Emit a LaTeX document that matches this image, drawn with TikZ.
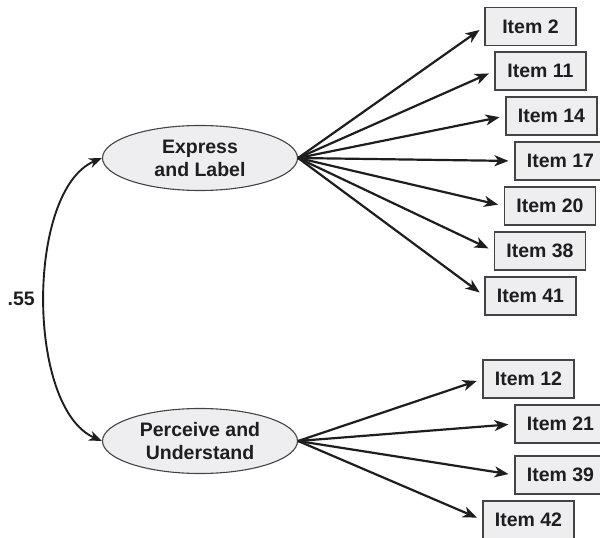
\documentclass[tikz,border=0pt]{standalone}
\usepackage{fontspec}
\setmainfont{Liberation Sans}
\usetikzlibrary{arrows.meta,shapes.geometric}

\definecolor{fillgray}{HTML}{EEEEF1}
\definecolor{edgegray}{HTML}{444444}
\definecolor{inkdark}{HTML}{1E1E1E}

\begin{document}
\begin{tikzpicture}[
  x=1pt, y=-1pt,
  font=\fontsize{19.5}{23}\selectfont\bfseries,
  text=inkdark,
  factor/.style={ellipse, draw=edgegray, line width=1.1pt, fill=fillgray,
    minimum width=195pt, minimum height=65pt, inner sep=0pt, align=center},
  item/.style={draw=edgegray, line width=1.1pt, fill=fillgray,
    minimum width=91pt, minimum height=38pt, inner sep=0pt},
  arr/.style={-{Stealth[length=14pt, width=11pt, inset=4pt]}, line width=2.2pt, draw=inkdark, shorten >=6pt},
  dbl/.style={{Stealth[length=13pt, width=10pt, inset=4pt]}-{Stealth[length=13pt, width=10pt, inset=4pt]}, line width=1.9pt, draw=inkdark}
]
\clip (0,0) rectangle (600,538);
\fill[white] (0,0) rectangle (600,538);
% factors
\node[factor] (EL) at (200,158) {Express\\and Label};
\node[factor] (PU) at (200,441) {Perceive and\\Understand};
% items for Express and Label
\node[item] (i2)  at (530.5,26.5) {Item 2};
\node[item] (i11) at (540.5,71)   {Item 11};
\node[item] (i14) at (551.5,116)  {Item 14};
\node[item] (i17) at (560.5,161)  {Item 17};
\node[item] (i20) at (550,206)    {Item 20};
\node[item] (i38) at (540,251)    {Item 38};
\node[item] (i41) at (530.5,296)  {Item 41};
% items for Perceive and Understand
\node[item] (i12) at (528.5,379)  {Item 12};
\node[item] (i21) at (560.5,424)  {Item 21};
\node[item] (i39) at (560.5,475)  {Item 39};
\node[item] (i42) at (528.5,520)  {Item 42};
% loadings
\draw[arr] (EL.east) -- (i2.west);
\draw[arr] (EL.east) -- (i11.west);
\draw[arr] (EL.east) -- (i14.west);
\draw[arr] (EL.east) -- (i17.west);
\draw[arr] (EL.east) -- (i20.west);
\draw[arr] (EL.east) -- (i38.west);
\draw[arr] (EL.east) -- (i41.west);
\draw[arr] (PU.east) -- (i12.west);
\draw[arr] (PU.east) -- (i21.west);
\draw[arr] (PU.east) -- (i39.west);
\draw[arr] (PU.east) -- (i42.west);
% correlation
\draw[dbl] (EL.west) .. controls (26,190) and (26,408) .. node[left=6pt] (r) {.55} (PU.west);
\end{tikzpicture}
\end{document}
